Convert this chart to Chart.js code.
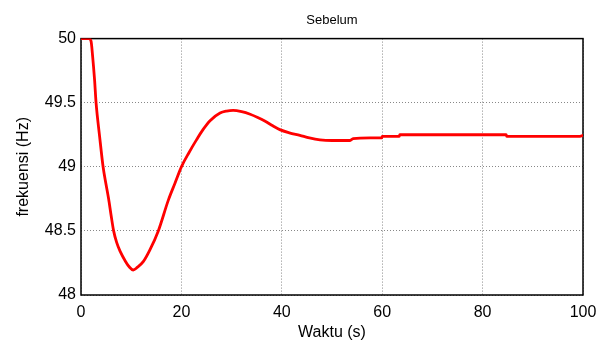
<!DOCTYPE html>
<html>
<head>
<meta charset="utf-8">
<script src="https://cdn.jsdelivr.net/npm/chart.js@4/dist/chart.umd.min.js"></script>
<style>
  html, body { margin: 0; padding: 0; background: #fff; }
  canvas { display: block; }
</style>
</head>
<body>
<canvas id="grafico-frekuensi" width="609" height="342"></canvas>
<script>
// waktu (s) dan frekuensi (Hz)
const waktu = [0, 1.6, 2.0, 2.3, 2.7, 3.0, 3.7, 4.4, 5.0, 5.5, 6.0, 6.5, 7.1, 7.8, 8.9, 9.6, 10.4, 11.2, 12.4, 13.7, 15.4, 17.4, 18.7, 20.0, 21.5, 23.0, 24.3, 25.7, 27.7, 29.0, 30.3, 32.0, 33.7, 35.2, 36.7, 38.2, 39.6, 41.5, 43.6, 45.5, 47.6, 50.0, 53.6, 54.2, 57.6, 59.9, 60.0, 63.4, 63.5, 84.7, 84.8, 99.4, 100];
const frekuensi = [50, 50, 49.98, 49.87, 49.68, 49.5, 49.24, 49.0, 48.86, 48.75, 48.62, 48.5, 48.41, 48.34, 48.26, 48.22, 48.195, 48.215, 48.26, 48.35, 48.5, 48.74, 48.87, 49.0, 49.11, 49.21, 49.29, 49.36, 49.42, 49.435, 49.44, 49.43, 49.41, 49.385, 49.355, 49.32, 49.29, 49.265, 49.245, 49.225, 49.21, 49.205, 49.205, 49.22, 49.225, 49.225, 49.237, 49.237, 49.25, 49.25, 49.237, 49.237, 49.245];
const xTicks = [0, 20, 40, 60, 80, 100];
const yTicks = [48, 48.5, 49, 49.5, 50];

const fontFamily = "'Liberation Sans', Arial, sans-serif";

const framePlugin = {
  id: "frame",
  beforeDatasetsDraw(chart) {
    const { ctx, chartArea: a } = chart;
    ctx.save();
    ctx.strokeStyle = "#000";
    ctx.lineWidth = 1.5;
    ctx.strokeRect(a.left, a.top, a.right - a.left, a.bottom - a.top);
    ctx.restore();
  },
};

const ctxFrek = document.getElementById("grafico-frekuensi").getContext("2d");
const frekConfig = {
  type: "line",
  data: {
    datasets: [{
      label: "Sebelum",
      data: waktu.map((t, i) => ({ x: t, y: frekuensi[i] })),
      borderColor: "rgb(255, 0, 0)",
      borderWidth: 2.8,
      borderJoinStyle: "round",
      borderCapStyle: "round",
      pointRadius: 0,
      fill: false,
      cubicInterpolationMode: "monotone",
    }],
  },
  options: {
    responsive: false,
    animation: false,
    devicePixelRatio: 1,
    layout: { padding: { left: 0, right: 26, top: 0, bottom: 0 } },
    scales: {
      x: {
        type: "linear",
        min: 0,
        max: 100,
        afterBuildTicks: (s) => { s.ticks = xTicks.map(v => ({ value: v })); },
        afterFit: (s) => { s.height = 47; },
        grid: { color: "#888", lineWidth: 1, drawTicks: false },
        border: { display: false, dash: [1, 2] },
        ticks: { color: "#000", padding: 8, font: { family: fontFamily, size: 16 }, callback: v => String(v) },
        title: { display: true, text: "Waktu (s)", color: "#000", padding: { top: 0, bottom: 0 }, font: { family: fontFamily, size: 16 } },
      },
      y: {
        type: "linear",
        min: 48,
        max: 50,
        afterBuildTicks: (s) => { s.ticks = yTicks.map(v => ({ value: v })); },
        afterFit: (s) => { s.width = 81; },
        grid: { color: "#888", lineWidth: 1, drawTicks: false },
        border: { display: false, dash: [1, 2] },
        ticks: { color: "#000", padding: 5, font: { family: fontFamily, size: 16 }, callback: v => String(v) },
        title: { display: true, text: "frekuensi (Hz)", color: "#000", padding: { top: 14, bottom: 0 }, font: { family: fontFamily, size: 16 } },
      },
    },
    plugins: {
      legend: { display: false },
      tooltip: { enabled: false },
      title: {
        display: true,
        text: "Sebelum",
        fullSize: false,
        color: "#000",
        padding: { top: 13, bottom: 10 },
        font: { family: fontFamily, size: 13, weight: "normal" },
      },
    },
  },
  plugins: [framePlugin],
};
const graficoFrekuensi = new Chart(ctxFrek, frekConfig);
</script>
</body>
</html>
